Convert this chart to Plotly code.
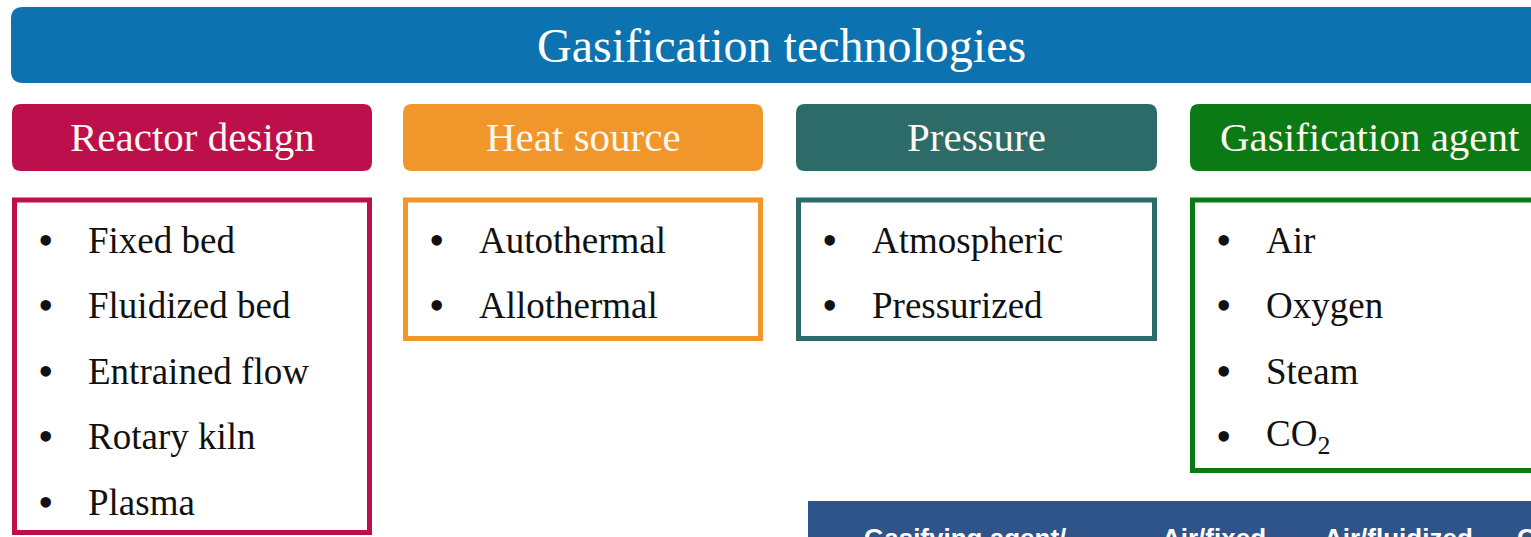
import plotly.graph_objects as go

W, H = 1531, 537

title = "Gasification technologies"
categories = ["Reactor design", "Heat source", "Pressure", "Gasification agent"]
category_items = [
    ["Fixed bed", "Fluidized bed", "Entrained flow", "Rotary kiln", "Plasma"],
    ["Autothermal", "Allothermal"],
    ["Atmospheric", "Pressurized"],
    ["Air", "Oxygen", "Steam", "CO<sub>2</sub>"],
]
category_colors = ["#BD0F4B", "#F0962B", "#2C6B68", "#0B7A15"]
table_headers = ["Gasifying agent/", "Air/fixed", "Air/fluidized", "O"]

# layout geometry (pixels)
col_left = [12, 403, 796, 1190]
col_right = [372, 763, 1157, 1600]
box_bottom = [535, 341, 341, 473]
item_y0, item_dy = 240, 65.5


def rrect(x0, y0, x1, y1, r):
    return (f"M{x0+r},{y0} L{x1-r},{y0} Q{x1},{y0} {x1},{y0+r} L{x1},{y1-r} "
            f"Q{x1},{y1} {x1-r},{y1} L{x0+r},{y1} Q{x0},{y1} {x0},{y1-r} "
            f"L{x0},{y0+r} Q{x0},{y0} {x0+r},{y0} Z")


fig = go.Figure()
shapes, ann = [], []

# Banner
shapes.append(dict(type="path", path=rrect(11, 7, 1620, 83, 12), xref="x", yref="y",
                   fillcolor="#0D72B0", line=dict(width=0)))
ann.append(dict(x=781, y=45, text=title, showarrow=False, xref="x", yref="y",
                font=dict(family="Liberation Serif", size=48, color="white")))

for i, cat in enumerate(categories):
    x0, x1 = col_left[i], col_right[i]
    c = category_colors[i]
    shapes.append(dict(type="path", path=rrect(x0, 104, x1, 171, 9), xref="x", yref="y",
                       fillcolor=c, line=dict(width=0)))
    cx = (x0 + x1) / 2 if i < 3 else 1370
    ann.append(dict(x=cx, y=137, text=cat, showarrow=False, xref="x", yref="y",
                    font=dict(family="Liberation Serif", size=41, color="#FDF8F0")))
    shapes.append(dict(type="rect", x0=x0 + 2.5, x1=x1 - 2.5, y0=200, y1=box_bottom[i] - 2.5,
                       xref="x", yref="y", fillcolor="rgba(0,0,0,0)",
                       line=dict(color=c, width=5)))
    for j, it in enumerate(category_items[i]):
        y = item_y0 + j * item_dy
        ann.append(dict(x=x0 + 33, y=y, text="•", showarrow=False, xref="x", yref="y",
                        font=dict(family="Liberation Serif", size=44, color="#111111")))
        ann.append(dict(x=x0 + 74, y=y, text=it, showarrow=False, xref="x", yref="y",
                        xanchor="left", font=dict(family="Liberation Serif", size=37, color="#111111")))

# bottom table header (cut off by the window edge)
shapes.append(dict(type="rect", x0=808, x1=1620, y0=501, y1=560, xref="x", yref="y",
                   fillcolor="#2F5489", line=dict(width=0)))
tx = [862, 1160, 1322, 1515]
for t, x in zip(table_headers, tx):
    ann.append(dict(x=x, y=521, text="<b>" + t + "</b>", showarrow=False, xref="x", yref="y",
                    xanchor="left", yanchor="top",
                    font=dict(family="Liberation Sans", size=26, color="white")))

fig.update_layout(
    width=W, height=H, margin=dict(l=0, r=0, t=0, b=0),
    paper_bgcolor="white", plot_bgcolor="white",
    xaxis=dict(range=[0, W], visible=False, fixedrange=True),
    yaxis=dict(range=[H, 0], visible=False, fixedrange=True),
    shapes=shapes, annotations=ann, showlegend=False,
)
fig.write_html("out.html", config={"displayModeBar": False},
               post_script="document.body.style.margin='0';document.body.style.overflow='hidden';")
